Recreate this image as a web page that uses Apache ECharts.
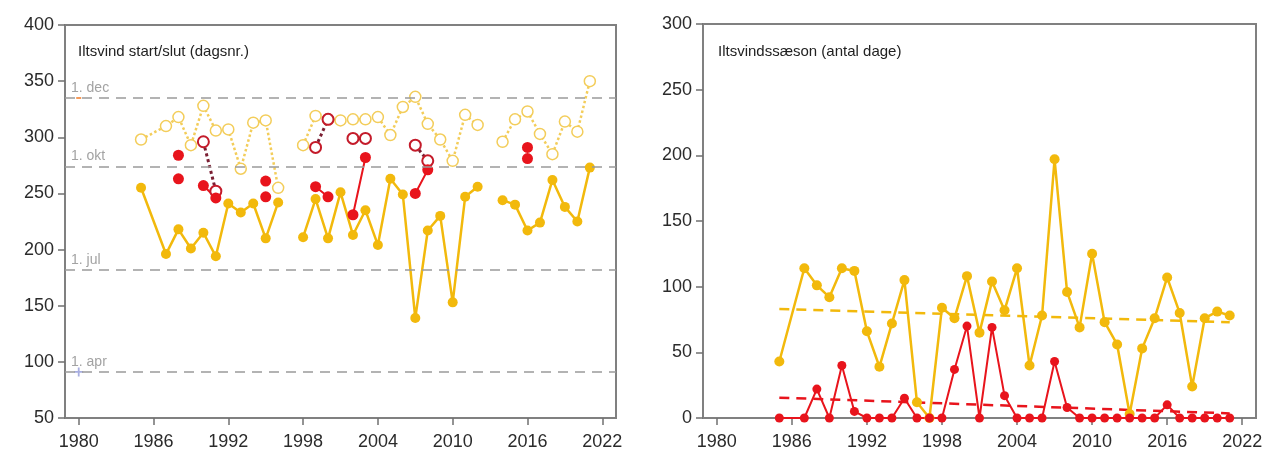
<!DOCTYPE html>
<html>
<head>
<meta charset="utf-8">
<script src="https://cdn.jsdelivr.net/npm/echarts@6/dist/echarts.min.js"></script>
<style>
  html, body { margin: 0; padding: 0; background: #fff; }
  #chart { width: 1283px; height: 461px; }
</style>
</head>
<body>
<div id="chart"></div>
<script>
// tick labels
const yearTicks = [1980, 1986, 1992, 1998, 2004, 2010, 2016, 2022];

// left panel: day numbers (start / end of oxygen depletion)
const startDay = [[1985,255],[1987,196],[1988,218],[1989,201],[1990,215],[1991,194],[1992,241],[1993,233],[1994,241],[1995,210],[1996,242],[1997,null],
  [1998,211],[1999,245],[2000,210],[2001,251],[2002,213],[2003,235],[2004,204],[2005,263],[2006,249],[2007,139],[2008,217],[2009,230],[2010,153],[2011,247],[2012,256],[2013,null],
  [2014,244],[2015,240],[2016,217],[2017,224],[2018,262],[2019,238],[2020,225],[2021,273]];
const endDay = [[1985,298],[1987,310],[1988,318],[1989,293],[1990,328],[1991,306],[1992,307],[1993,272],[1994,313],[1995,315],[1996,255],[1997,null],
  [1998,293],[1999,319],[2000,316],[2001,315],[2002,316],[2003,316],[2004,318],[2005,302],[2006,327],[2007,336],[2008,312],[2009,298],[2010,279],[2011,320],[2012,311],[2013,null],
  [2014,296],[2015,316],[2016,323],[2017,303],[2018,285],[2019,314],[2020,305],[2021,350]];
const severeStart = [[1988,263],[1989,null],[1990,257],[1991,246],[1992,null],[1995,247],[1996,null],[1999,256],[2000,247],[2001,null],
  [2002,231],[2003,282],[2004,null],[2007,250],[2008,271],[2009,null],[2016,281]];
const severeExtra = [[1988,284],[1995,261],[2016,291]];
const severeEnd = [[1990,296],[1991,252],[1992,null],[1999,291],[2000,316],[2001,null],[2002,299],[2003,299],[2004,null],[2007,293],[2008,279]];
const refDays = [335, 274, 182, 91];
const refNames = ['1. dec', '1. okt', '1. jul', '1. apr'];
const strayOrange = [[1980,335]];
const strayBlue = [[1980,91]];

// right panel: season length (days)
const seasonYears = [1985,1987,1988,1989,1990,1991,1992,1993,1994,1995,1996,1997,1998,1999,2000,2001,2002,2003,2004,2005,2006,2007,2008,2009,2010,2011,2012,2013,2014,2015,2016,2017,2018,2019,2020,2021];
const seasonAll = [43,114,101,92,114,112,66,39,72,105,12,0,84,76,108,65,104,82,114,40,78,197,96,69,125,73,56,3,53,76,107,80,24,76,81,78];
const seasonSevere = [0,0,22,0,40,5,0,0,0,15,0,0,0,37,70,0,69,17,0,0,0,43,8,0,0,0,0,0,0,0,10,0,0,0,0,0];
const trendAll = [[1985,83],[2021,73]];
const trendSevere = [[1985,15.5],[2021,3.5]];

const YELLOW = '#f2b90c';
const YELLOW_LIGHT = '#f3cd5a';
const RED = '#e8141c';
const DARKRED = '#7b1f33';
const FONT = 'Liberation Sans';

const chart = echarts.init(document.getElementById('chart'));

function xAxisFor(gridIndex) {
  return {
    type: 'value', gridIndex, min: 1978.9, max: 2023.1,
    axisLine: { show: true, onZero: false, lineStyle: { color: '#808080', width: 2 } },
    axisTick: { show: true, customValues: yearTicks, length: 7, lineStyle: { color: '#707070', width: 1.5 } },
    axisLabel: { customValues: yearTicks, formatter: v => String(v), color: '#2b2b2b', fontSize: 18, fontFamily: FONT, margin: 15 },
    splitLine: { show: false }
  };
}

function yAxisFor(gridIndex, min, max) {
  return {
    type: 'value', gridIndex, min, max, interval: 50,
    axisLine: { show: true, lineStyle: { color: '#808080', width: 2 } },
    axisTick: { show: true, length: 7, lineStyle: { color: '#707070', width: 1.5 } },
    axisLabel: { color: '#2b2b2b', fontSize: 18, fontFamily: FONT, margin: 11 },
    splitLine: { show: false }
  };
}

const option = {
  animation: false,
  textStyle: { fontFamily: FONT },
  title: [
    { text: 'Iltsvind start/slut (dagsnr.)', left: 73, top: 39, textStyle: { fontSize: 15, fontWeight: 'normal', color: '#222', fontFamily: FONT } },
    { text: 'Iltsvindssæson (antal dage)', left: 713, top: 39, textStyle: { fontSize: 15, fontWeight: 'normal', color: '#222', fontFamily: FONT } }
  ],
  grid: [
    { left: 65, top: 25, width: 551, height: 393, show: true, borderColor: '#808080', borderWidth: 2, backgroundColor: 'transparent' },
    { left: 703, top: 24, width: 553, height: 394, show: true, borderColor: '#808080', borderWidth: 2, backgroundColor: 'transparent' }
  ],
  xAxis: [xAxisFor(0), xAxisFor(1)],
  yAxis: [yAxisFor(0, 50, 400), yAxisFor(1, 0, 300)],
  series: [
    {
      type: 'line', xAxisIndex: 0, yAxisIndex: 0, data: [], silent: true,
      markLine: {
        symbol: 'none', silent: true,
        lineStyle: { color: '#9a9a9a', type: [10, 7], width: 1.5 },
        label: { position: 'insideStartTop', formatter: '{b}', color: '#a3a3a3', fontSize: 14, fontFamily: FONT, distance: [6, 3] },
        data: refDays.map((d, i) => ({ yAxis: d, name: refNames[i] }))
      }
    },
    {
      type: 'scatter', xAxisIndex: 0, yAxisIndex: 0, data: strayOrange,
      symbol: 'rect', symbolSize: [5, 2], itemStyle: { color: '#f59a5a', opacity: 1 }
    },
    {
      type: 'scatter', xAxisIndex: 0, yAxisIndex: 0, data: strayBlue,
      symbol: 'path://M4,0H6V4H10V6H6V10H4V6H0V4H4Z', symbolSize: 9, itemStyle: { color: '#a8aee0', opacity: 1 }
    },
    {
      type: 'line', xAxisIndex: 0, yAxisIndex: 0, data: endDay,
      symbol: 'circle', symbolSize: 11, showAllSymbol: true,
      lineStyle: { color: YELLOW_LIGHT, width: 2.5, type: 'dotted' },
      itemStyle: { color: '#fff', borderColor: YELLOW_LIGHT, borderWidth: 1.5 }
    },
    {
      type: 'line', xAxisIndex: 0, yAxisIndex: 0, data: startDay,
      symbol: 'circle', symbolSize: 10, showAllSymbol: true,
      lineStyle: { color: YELLOW, width: 2.5 },
      itemStyle: { color: YELLOW }
    },
    {
      type: 'line', xAxisIndex: 0, yAxisIndex: 0, data: severeEnd,
      symbol: 'circle', symbolSize: 11, showAllSymbol: true,
      lineStyle: { color: DARKRED, width: 3, type: 'dotted' },
      itemStyle: { color: '#fff', borderColor: '#c41b2a', borderWidth: 2 }
    },
    {
      type: 'line', xAxisIndex: 0, yAxisIndex: 0, data: severeStart,
      symbol: 'circle', symbolSize: 11, showAllSymbol: true,
      lineStyle: { color: RED, width: 2 },
      itemStyle: { color: RED }
    },
    {
      type: 'scatter', xAxisIndex: 0, yAxisIndex: 0, data: severeExtra,
      symbol: 'circle', symbolSize: 11, itemStyle: { color: RED, opacity: 1 }
    },
    {
      type: 'line', xAxisIndex: 1, yAxisIndex: 1, data: trendAll,
      symbol: 'none', lineStyle: { color: YELLOW, width: 2.5, type: [10, 7] }
    },
    {
      type: 'line', xAxisIndex: 1, yAxisIndex: 1, data: trendSevere,
      symbol: 'none', lineStyle: { color: RED, width: 2.5, type: [10, 7] }
    },
    {
      type: 'line', xAxisIndex: 1, yAxisIndex: 1,
      data: seasonYears.map((y, i) => [y, seasonAll[i]]),
      symbol: 'circle', symbolSize: 10, showAllSymbol: true,
      lineStyle: { color: YELLOW, width: 2.5 },
      itemStyle: { color: YELLOW }
    },
    {
      type: 'line', xAxisIndex: 1, yAxisIndex: 1,
      data: seasonYears.map((y, i) => [y, seasonSevere[i]]),
      symbol: 'circle', symbolSize: 9, showAllSymbol: true,
      lineStyle: { color: RED, width: 2 },
      itemStyle: { color: RED }
    }
  ]
};

chart.setOption(option);
</script>
</body>
</html>
